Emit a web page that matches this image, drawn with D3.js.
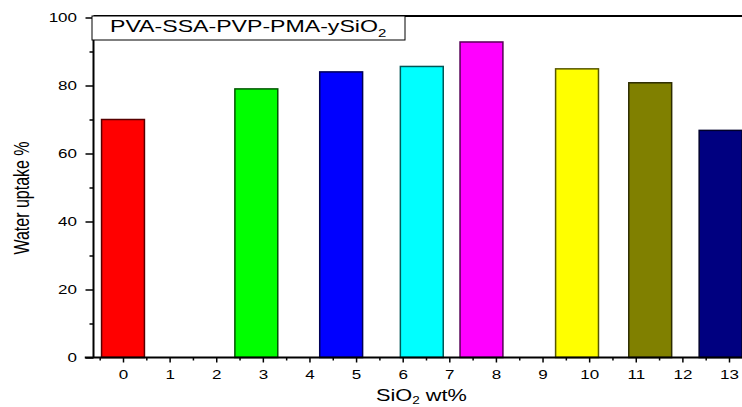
<!DOCTYPE html>
<html>
<head>
<meta charset="utf-8">
<script src="https://cdn.jsdelivr.net/npm/d3@7"></script>
<style>
  body { margin: 0; background: #fff; }
  text { font-family: Arial, "Liberation Sans", sans-serif; fill: #000; }
</style>
</head>
<body>
<div id="chart"></div>
<script>
// data
var sio2 = [0, 2.86, 4.68, 6.41, 7.69, 9.74, 11.31, 12.82];
var uptake = [70, 79, 84, 85.6, 92.8, 84.9, 80.8, 66.8];
var barColors = ["#ff0000", "#00ff00", "#0000ff", "#00ffff", "#ff00ff", "#ffff00", "#808000", "#000080"];
var xTicks = d3.range(0, 14);
var xMinor = d3.range(-0.5, 14, 1);
var yTicks = [0, 20, 40, 60, 80, 100];
var yMinor = [10, 30, 50, 70, 90];

var width = 742, height = 407;
var sx = 1.36; // the reference text is stretched sideways

var svg = d3.select("#chart")
  .append("svg")
  .attr("width", width)
  .attr("height", height);

var x = d3.scaleLinear().domain([0, 13]).range([123, 729]);
var y = d3.scaleLinear().domain([0, 100]).range([357.5, 17.5]);
var axisX = 93.5;
var barW = 0.92;

// bars
svg.append("g")
  .selectAll("rect")
  .data(sio2)
  .enter()
  .append("rect")
    .attr("x", function(d) { return x(d - barW / 2); })
    .attr("y", function(d, i) { return y(uptake[i]); })
    .attr("width", function(d) { return x(barW) - x(0); })
    .attr("height", function(d, i) { return y(0) - y(uptake[i]); })
    .style("fill", function(d, i) { return barColors[i]; })
    .style("stroke", function(d, i) { return d3.color(barColors[i]).darker(3); })
    .style("stroke-width", 1.5);

// top frame line
svg.append("line")
  .attr("x1", axisX).attr("x2", width)
  .attr("y1", 16).attr("y2", 16)
  .style("stroke", "#000").style("stroke-width", 2);

// X axis (minor then major)
svg.append("g")
  .attr("transform", "translate(0," + y(0) + ")")
  .call(d3.axisBottom(x).tickValues(xMinor).tickSize(3).tickFormat(""))
  .call(function(g) { g.select(".domain").remove(); })
  .selectAll("line").style("stroke-width", 1.5);

var gx = svg.append("g")
  .attr("transform", "translate(0," + y(0) + ")")
  .call(d3.axisBottom(x).tickValues(xTicks).tickSize(5).tickSizeOuter(0));
gx.select(".domain").remove();
gx.selectAll("line").style("stroke-width", 1.5);
gx.selectAll("text")
  .attr("y", 13)
  .attr("transform", "scale(" + sx + ",1)")
  .style("font-size", "12.5px");
svg.append("line")
  .attr("x1", x(-0.82)).attr("x2", width)
  .attr("y1", y(0)).attr("y2", y(0))
  .style("stroke", "#000").style("stroke-width", 2);

// Y axis (minor then major)
svg.append("g")
  .attr("transform", "translate(" + axisX + ",0)")
  .call(d3.axisLeft(y).tickValues(yMinor).tickSize(4).tickFormat(""))
  .call(function(g) { g.select(".domain").remove(); })
  .selectAll("line").style("stroke-width", 1.5);

var gy = svg.append("g")
  .attr("transform", "translate(" + axisX + ",0)")
  .call(d3.axisLeft(y).tickValues(yTicks).tickSize(8).tickSizeOuter(0));
gy.select(".domain").remove();
gy.selectAll("line").style("stroke-width", 1.5);
gy.selectAll("text")
  .attr("x", -16.5 / sx)
  .attr("transform", "scale(" + sx + ",1)")
  .style("font-size", "12.5px");
svg.append("line")
  .attr("x1", axisX).attr("x2", axisX)
  .attr("y1", 16).attr("y2", y(0))
  .style("stroke", "#000").style("stroke-width", 2);

// legend box
svg.append("rect")
  .attr("x", 92).attr("y", 16)
  .attr("width", 313).attr("height", 24)
  .style("fill", "#fff").style("stroke", "#000").style("stroke-width", 1);
var leg = svg.append("text")
  .attr("transform", "translate(110,32.3) scale(" + sx + ",1)")
  .style("font-size", "17px");
leg.append("tspan").text("PVA-SSA-PVP-PMA-ySiO");
leg.append("tspan").attr("dy", 5).style("font-size", "11px").text("2");

// axis titles
svg.append("text")
  .attr("transform", "translate(29,198) scale(" + sx + ",1) rotate(-90)")
  .attr("text-anchor", "middle")
  .style("font-size", "16px")
  .text("Water uptake %");

var xt = svg.append("text")
  .attr("transform", "translate(376,401) scale(" + sx + ",1)")
  .style("font-size", "16px");
xt.append("tspan").text("SiO");
xt.append("tspan").attr("dy", 3).style("font-size", "10px").text("2");
xt.append("tspan").attr("dy", -3).text(" wt%");
</script>
</body>
</html>
